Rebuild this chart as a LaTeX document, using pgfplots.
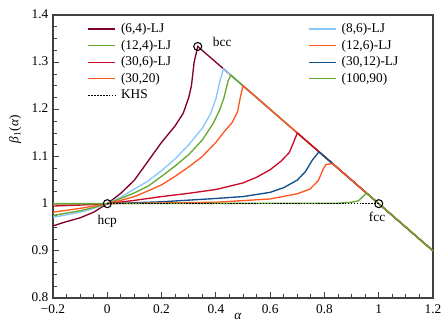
\documentclass[border=0pt]{standalone}
\usepackage{pgfplots}
\pgfplotsset{compat=1.18}
\usepackage{fontspec}
\setmainfont{Liberation Serif}
\definecolor{cMaroon}{RGB}{128,0,40}
\definecolor{cLBlue}{RGB}{135,200,250}
\definecolor{cGreen}{RGB}{102,168,48}
\definecolor{cOrange}{RGB}{255,87,34}
\definecolor{cRed}{RGB}{204,10,40}
\definecolor{cDBlue}{RGB}{16,78,140}
\begin{document}
\begin{tikzpicture}
\begin{axis}[
  scale only axis, width=285pt, height=212.25pt,
  xmin=-0.2, xmax=1.2, ymin=0.8, ymax=1.4,
  xtick={-0.2,0,0.2,0.4,0.6,0.8,1,1.2},
  xticklabels={−0.2,0,0.2,0.4,0.6,0.8,1,1.2},
  ytick={0.8,0.9,1,1.1,1.2,1.3,1.4},
  yticklabels={0.8,0.9,1,1.1,1.2,1.3,1.4},
  xticklabel style={yshift=-1.5pt},
  yticklabel style={yshift=0.5pt},
  minor x tick num=3, minor y tick num=3,
  xtick pos=left, ytick pos=left, tick align=inside,
  axis line style={black!75, line width=0.8pt},
  every tick/.style={black!75, line width=0.6pt},
  xlabel={\textit{α}}, ylabel={\textit{β}\textsubscript{1}(\textit{α})},
  xlabel style={at={(axis description cs:0.487,-0.065)}, anchor=center},
  ylabel style={at={(axis description cs:-0.1,0.597)}, anchor=center},
  legend columns=2, legend cell align=left,
  legend image code/.code={\draw[#1] (0pt,0pt) -- (20pt,0pt);},
  legend style={draw=none, fill=none, at={(axis description cs:0.08,0.99)}, anchor=north west,
    /tikz/column 1/.style={column sep=2pt},
    /tikz/column 3/.style={column sep=2pt},
    /tikz/column 2/.style={column sep=101pt}},
]
\addplot[cMaroon, line width=1pt] coordinates {(-0.2,0.953) (-0.15,0.962) (-0.1,0.970) (-0.05,0.982) (0,1) (0.05,1.022) (0.1,1.05) (0.15,1.09) (0.2,1.13) (0.25,1.165) (0.28,1.192) (0.3,1.225) (0.31,1.25) (0.32,1.30) (0.3333,1.3333) (1.2,0.9)};
\addlegendentry{(6,4)-LJ}
\addplot[cLBlue, line width=1pt] coordinates {(-0.2,0.971) (-0.1,0.982) (-0.05,0.99) (0,1) (0.05,1.014) (0.1,1.031) (0.15,1.048) (0.2,1.07) (0.25,1.095) (0.3,1.125) (0.35,1.16) (0.38,1.19) (0.4,1.222) (0.415,1.26) (0.428,1.286) (1.2,0.9)};
\addlegendentry{(8,6)-LJ}
\addplot[cGreen, line width=1pt] coordinates {(-0.2,0.975) (-0.1,0.985) (-0.05,0.992) (0,1) (0.05,1.011) (0.1,1.023) (0.15,1.037) (0.2,1.058) (0.25,1.08) (0.3,1.104) (0.35,1.135) (0.39,1.17) (0.415,1.2) (0.43,1.225) (0.445,1.26) (0.455,1.2725) (1.2,0.9)};
\addlegendentry{(12,4)-LJ}
\addplot[cOrange, line width=1pt] coordinates {(-0.2,0.982) (-0.1,0.99) (0,1) (0.05,1.007) (0.1,1.015) (0.15,1.027) (0.2,1.04) (0.25,1.058) (0.3,1.078) (0.35,1.1) (0.4,1.13) (0.43,1.152) (0.46,1.172) (0.48,1.195) (0.49,1.225) (0.5,1.25) (1.2,0.9)};
\addlegendentry{(12,6)-LJ}
\addplot[cRed, line width=1pt] coordinates {(-0.2,0.995) (-0.1,0.997) (0,1) (0.1,1.007) (0.2,1.015) (0.3,1.022) (0.4,1.03) (0.5,1.044) (0.55,1.056) (0.6,1.072) (0.64,1.09) (0.67,1.108) (0.685,1.128) (0.7,1.15) (1.2,0.9)};
\addlegendentry{(30,6)-LJ}
\addplot[cDBlue, line width=1pt] coordinates {(-0.2,1.0) (0,1) (0.2,1.004) (0.4,1.011) (0.5,1.015) (0.6,1.024) (0.65,1.034) (0.7,1.05) (0.73,1.068) (0.755,1.092) (0.78,1.11) (1.2,0.9)};
\addlegendentry{(30,12)-LJ}
\addplot[cOrange, line width=1pt] coordinates {(-0.2,1.0) (0,1) (0.4,1.003) (0.6,1.01) (0.7,1.021) (0.747,1.031) (0.7775,1.049) (0.796,1.074) (0.806,1.083) (0.83,1.085) (1.2,0.9)};
\addlegendentry{(30,20)}
\addplot[cGreen, line width=1pt] coordinates {(-0.2,1.0) (0.85,1.001) (0.9,1.003) (0.925,1.006) (0.955,1.0225) (1.2,0.9)};
\addlegendentry{(100,90)}
\addplot[black, line width=0.6pt, dash pattern=on 1.2pt off 1pt] coordinates {(0,1) (1,1)};
\addlegendentry{KHS}
\addplot[forget plot, only marks, mark=o, mark size=3pt, black, mark options={line width=0.8pt}] coordinates {(0,1) (0.3333,1.3333) (1,1)};
\node[anchor=west] at (axis cs:0.372,1.343) {bcc};
\node at (axis cs:0,0.962) {hcp};
\node at (axis cs:0.994,0.972) {fcc};
\end{axis}
\path (current axis.south west) ++(-39.75pt,-23.25pt) rectangle ++(336pt,246.75pt);
\end{tikzpicture}
\end{document}
